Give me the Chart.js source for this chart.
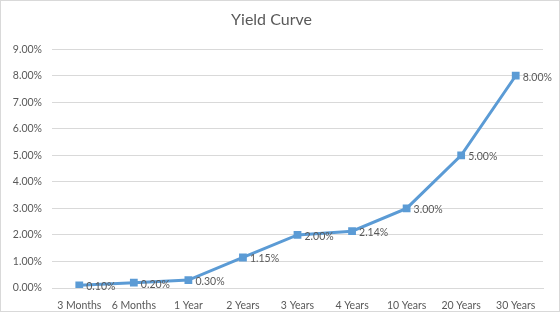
<!DOCTYPE html>
<html><head><meta charset="utf-8">
<title>Yield Curve</title>
<script src="https://cdn.jsdelivr.net/npm/chart.js@4.4.7/dist/chart.umd.min.js"></script>
<style>
html,body{margin:0;padding:0;background:#fff}
#wrap{width:560px;height:312px;position:relative}
</style></head><body>
<div id="wrap"><canvas id="chart" width="560" height="312"></canvas></div>
<script>
// Yield curve, values
var MATURITIES = ['3 Months', '6 Months', '1 Year', '2 Years', '3 Years', '4 Years', '10 Years', '20 Years', '30 Years'];
var YIELDS = [0.10, 0.20, 0.30, 1.15, 2.00, 2.14, 3.00, 5.00, 8.00];
var Y_TICKS = [0, 1, 2, 3, 4, 5, 6, 7, 8, 9];

var TXT = '#595959';
var FONT = 'Lato, "Open Sans", sans-serif';

// value labels to the right of each marker, plus the outer chart border
var labelPlugin = {
  id: 'labels',
  afterDatasetsDraw: function(chart) {
    var ctx = chart.ctx;
    var meta = chart.getDatasetMeta(0);
    ctx.save();
    ctx.font = '10.5px ' + FONT;
    ctx.fillStyle = TXT;
    ctx.textAlign = 'left';
    ctx.textBaseline = 'middle';
    meta.data.forEach(function(pt, i) {
      ctx.fillText(YIELDS[i].toFixed(2) + '%', pt.x + 7, pt.y + 1.5);
    });
    ctx.restore();
  },
  afterDraw: function(chart) {
    var ctx = chart.ctx;
    ctx.save();
    ctx.strokeStyle = '#D9D9D9';
    ctx.lineWidth = 1;
    ctx.strokeRect(0.5, 0.5, chart.width - 1, chart.height - 1);
    ctx.restore();
  }
};

new Chart(document.getElementById('chart').getContext('2d'), {
  type: 'line',
  data: {
    labels: MATURITIES,
    datasets: [{
      label: 'Yield',
      data: YIELDS,
      borderColor: '#5B9BD5',
      backgroundColor: '#5B9BD5',
      borderWidth: 3,
      pointStyle: 'rect',
      pointRadius: 5.5,
      pointBackgroundColor: '#5B9BD5',
      pointBorderWidth: 0,
      tension: 0
    }]
  },
  options: {
    responsive: false,
    animation: false,
    layout: {padding: {left: 0, right: 17, top: 0, bottom: 0}},
    plugins: {
      legend: {display: false},
      tooltip: {enabled: false},
      title: {
        display: true,
        text: 'Yield Curve',
        color: TXT,
        font: {family: FONT, size: 16, weight: 'normal'},
        padding: {top: 10, bottom: 20}
      }
    },
    scales: {
      x: {
        offset: true,
        grid: {display: false},
        border: {display: true, color: '#D9D9D9'},
        ticks: {color: TXT, font: {family: FONT, size: 10.5}, padding: 3, maxRotation: 0, autoSkip: false},
        afterFit: function(s) { s.height = 24; }
      },
      y: {
        min: 0,
        max: 9,
        afterBuildTicks: function(s) { s.ticks = Y_TICKS.map(function(v) { return {value: v}; }); },
        grid: {color: '#D9D9D9', drawTicks: false},
        border: {display: false},
        ticks: {
          color: TXT,
          font: {family: FONT, size: 10.5},
          padding: 10,
          callback: function(v) { return v.toFixed(2) + '%'; }
        },
        afterFit: function(s) { s.width = 52; }
      }
    }
  },
  plugins: [labelPlugin]
});
</script>
</body></html>
